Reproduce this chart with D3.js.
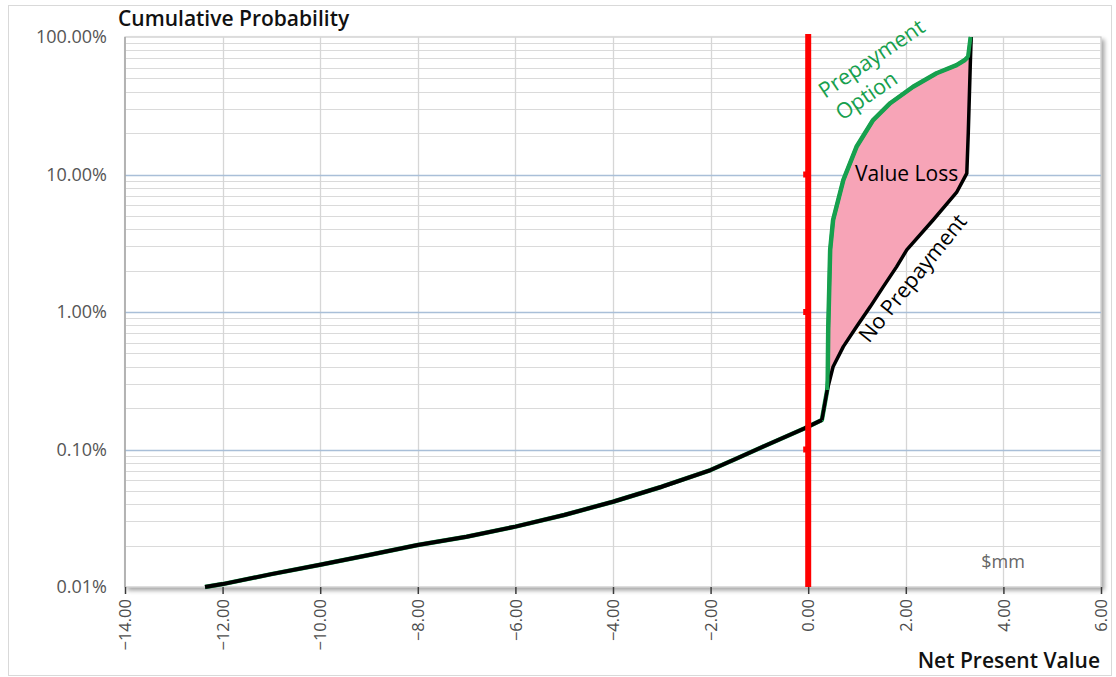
<!DOCTYPE html>
<html>
<head>
<meta charset="utf-8">
<script src="https://cdn.jsdelivr.net/npm/d3@7"></script>
<style>
  html, body { margin: 0; padding: 0; background: #fff; }
  svg { display: block; font-family: "Open Sans", "Noto Sans", sans-serif; }
</style>
</head>
<body>
<div id="chart"></div>
<script>
// ---- Data ----
// NPV in $mm, cumulative probability in %
const sharedNPV  = [-12.36, -12.0, -11.0, -10.0, -9.0, -8.0, -7.0, -6.0, -5.0, -4.0, -3.0, -2.0, -1.5, -0.93, -0.07, 0.28];
const sharedProb = [0.0100, 0.0105, 0.0124, 0.0145, 0.0171, 0.0202, 0.0232, 0.0275, 0.0334, 0.0417, 0.0536, 0.0709, 0.085, 0.1047, 0.1427, 0.164];

const noPrepayNPV  = [0.28, 0.39, 0.51, 0.72, 0.99, 1.27, 1.54, 1.81, 2.02, 2.56, 3.04, 3.25, 3.28, 3.32, 3.34];
const noPrepayProb = [0.164, 0.271, 0.40, 0.56, 0.78, 1.09, 1.53, 2.13, 2.83, 4.67, 7.4, 10.2, 20, 60.8, 100];

const prepayNPV  = [0.28, 0.39, 0.40, 0.41, 0.43, 0.45, 0.51, 0.72, 0.99, 1.33, 1.68, 2.15, 2.63, 3.04, 3.21, 3.28, 3.33];
const prepayProb = [0.164, 0.271, 0.32, 0.74, 1.44, 2.83, 4.67, 9.12, 15.9, 24.9, 33, 43.5, 54.5, 62.5, 68, 72, 100];

const xTicks = [-14, -12, -10, -8, -6, -4, -2, 0, 2, 4, 6];
const yTicks = [0.01, 0.1, 1, 10, 100];
const yTickLabels = ["0.01%", "0.10%", "1.00%", "10.00%", "100.00%"];
const breakEvenNPV = 0;

// ---- Layout ----
const W = 1116, H = 677;
const L = 125, R = 1101, T = 37, B = 587;

const svg = d3.select("#chart").append("svg").attr("width", W).attr("height", H);

const defs = svg.append("defs");
const f = defs.append("filter").attr("id", "shadow").attr("x", "-5%").attr("y", "-5%").attr("width", "110%").attr("height", "110%");
f.append("feGaussianBlur").attr("in", "SourceAlpha").attr("stdDeviation", 2);
f.append("feOffset").attr("dx", 3).attr("dy", 3).attr("result", "ob");
f.append("feComponentTransfer").append("feFuncA").attr("type", "linear").attr("slope", 0.35);
const fm = f.append("feMerge");
fm.append("feMergeNode");
fm.append("feMergeNode").attr("in", "SourceGraphic");

// outer chart border
svg.append("rect").attr("x", 8.5).attr("y", 5.5).attr("width", 1103).attr("height", 670)
  .attr("fill", "#fff").attr("stroke", "#d9d9d9").attr("stroke-width", 1);

const x = d3.scaleLinear().domain([-14, 6]).range([L, R]);
const y = d3.scaleLog().domain([0.01, 100]).range([B, T]);

// plot area frame with shadow
svg.append("rect").attr("x", L).attr("y", T).attr("width", R - L).attr("height", B - T)
  .attr("fill", "#fff").attr("stroke", "#c8c8c8").attr("stroke-width", 1.2).attr("filter", "url(#shadow)");

// minor horizontal grid
const minor = [];
for (let d = 0.01; d < 100; d *= 10) for (let k = 2; k <= 9; k++) minor.push(d * k);
svg.append("g").selectAll("line").data(minor).join("line")
  .attr("x1", L).attr("x2", R)
  .attr("y1", d => Math.round(y(d)) + 0.5).attr("y2", d => Math.round(y(d)) + 0.5)
  .attr("stroke", "#dadada").attr("stroke-width", 1);

// vertical grid
svg.append("g").selectAll("line").data(xTicks.slice(1, -1)).join("line")
  .attr("x1", d => Math.round(x(d)) + 0.5).attr("x2", d => Math.round(x(d)) + 0.5)
  .attr("y1", T).attr("y2", B)
  .attr("stroke", "#d6d6d6").attr("stroke-width", 1.3);

// major horizontal grid
svg.append("g").selectAll("line").data([0.1, 1, 10]).join("line")
  .attr("x1", L).attr("x2", R)
  .attr("y1", d => Math.round(y(d)) + 0.5).attr("y2", d => Math.round(y(d)) + 0.5)
  .attr("stroke", "#a9bfd8").attr("stroke-width", 1.5);

// left axis line
svg.append("line").attr("x1", L).attr("x2", L).attr("y1", T).attr("y2", B)
  .attr("stroke", "#a6a6a6").attr("stroke-width", 1.5);

// ---- Value Loss fill ----
const pts = d3.zip(prepayNPV, prepayProb).concat(d3.zip(noPrepayNPV, noPrepayProb).reverse());
const lineGen = d3.line().x(d => x(d[0])).y(d => y(d[1]));
svg.append("path").attr("d", lineGen(pts) + "Z").attr("fill", "#f7a4b7").attr("stroke", "none");

// ---- Curves ----
const greenPts = d3.zip(sharedNPV, sharedProb).concat(d3.zip(prepayNPV, prepayProb).slice(1));
const blackPts = d3.zip(sharedNPV, sharedProb).concat(d3.zip(noPrepayNPV, noPrepayProb).slice(1));

svg.append("path").attr("d", lineGen(greenPts)).attr("fill", "none")
  .attr("stroke", "#17a04e").attr("stroke-width", 4.5).attr("stroke-linejoin", "round");
svg.append("path").attr("d", lineGen(blackPts.slice(0, sharedNPV.length))).attr("fill", "none")
  .attr("stroke", "#000").attr("stroke-width", 4).attr("stroke-linejoin", "round");
svg.append("path").attr("d", lineGen(blackPts.slice(sharedNPV.length - 1))).attr("fill", "none")
  .attr("stroke", "#000").attr("stroke-width", 3.5).attr("stroke-linejoin", "round");
svg.append("path").attr("d", lineGen(d3.zip(prepayNPV, prepayProb).slice(1))).attr("fill", "none")
  .attr("stroke", "#17a04e").attr("stroke-width", 3.5).attr("stroke-linejoin", "round");

// ---- Break-even red line ----
svg.append("line").attr("x1", x(breakEvenNPV)).attr("x2", x(breakEvenNPV))
  .attr("y1", T - 3).attr("y2", B)
  .attr("stroke", "#ff0000").attr("stroke-width", 6);
svg.append("g").selectAll("rect").data([0.1, 1, 10]).join("rect")
  .attr("x", x(breakEvenNPV) - 5).attr("y", d => y(d) - 3).attr("width", 4).attr("height", 6)
  .attr("fill", "#ff0000");

// ---- Bottom axis ----
const xAxis = d3.axisBottom(x).tickValues(xTicks).tickSize(7).tickSizeOuter(0).tickFormat(d3.format(".2f"));
const gx = svg.append("g").attr("transform", `translate(0,${B})`).call(xAxis);
gx.select(".domain").attr("stroke", "#3a3a3a").attr("stroke-width", 2.2).attr("filter", "url(#shadow)");
gx.selectAll(".tick line").attr("stroke", "#3a3a3a").attr("stroke-width", 1.5);
gx.selectAll(".tick text")
  .attr("transform", "rotate(-90)")
  .attr("x", -12).attr("y", 0).attr("dy", "0.35em")
  .attr("text-anchor", "end")
  .attr("fill", "#4d4d4d").attr("font-size", 16.5)
  .attr("font-family", "'Open Sans', sans-serif");

// ---- Y labels ----
svg.append("g").selectAll("text").data(yTicks).join("text")
  .attr("x", 107).attr("y", d => y(d)).attr("dy", "0.36em")
  .attr("text-anchor", "end").attr("fill", "#555").attr("font-size", 18)
  .text((d, i) => yTickLabels[i]);

// ---- Titles ----
svg.append("text").attr("x", 118).attr("y", 26).attr("font-size", 21).attr("font-weight", 600)
  .attr("fill", "#111").text("Cumulative Probability");
svg.append("text").attr("x", 1100).attr("y", 668).attr("text-anchor", "end")
  .attr("font-size", 21).attr("font-weight", 600).attr("fill", "#111").text("Net Present Value");
svg.append("text").attr("x", 1003).attr("y", 568).attr("text-anchor", "middle")
  .attr("font-size", 18).attr("fill", "#666").text("$mm");

// ---- Annotations ----
svg.append("text").attr("transform", "translate(825,99) rotate(-34)")
  .attr("font-size", 21.5).attr("fill", "#17a04e").text("Prepayment");
svg.append("text").attr("transform", "translate(842,121) rotate(-34)")
  .attr("font-size", 21.5).attr("fill", "#17a04e").text("Option");
svg.append("text").attr("x", 855).attr("y", 181)
  .attr("font-size", 21).attr("fill", "#000").text("Value Loss");
svg.append("text").attr("transform", "translate(869,344) rotate(-51)")
  .attr("font-size", 21.5).attr("fill", "#000").text("No Prepayment");
</script>
</body>
</html>
